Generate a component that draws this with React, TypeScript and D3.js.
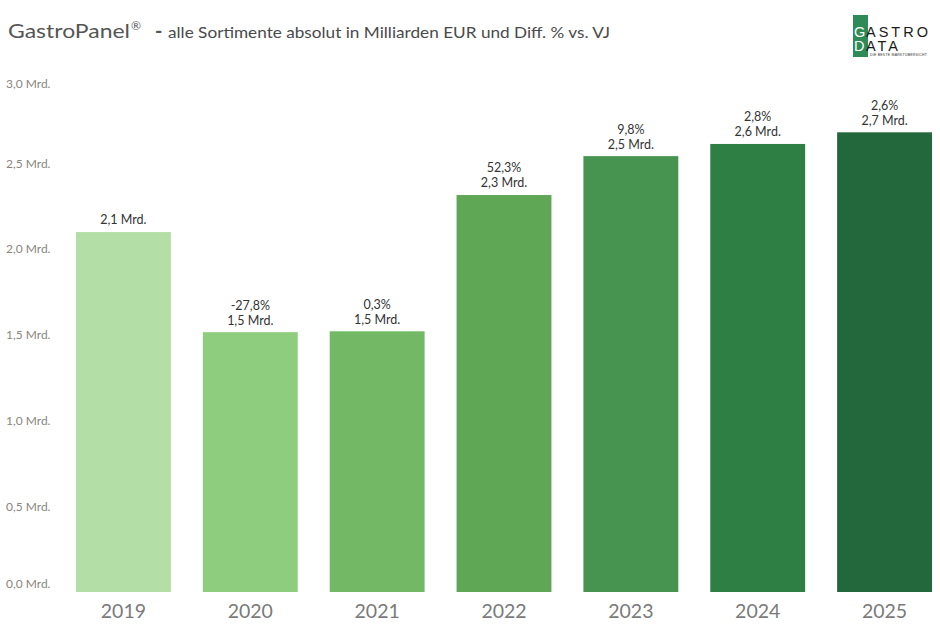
import * as d3 from "d3";
import { useMemo } from "react";

const years = ["2019", "2020", "2021", "2022", "2023", "2024", "2025"];
const umsatz = [2.1, 1.516, 1.521, 2.316, 2.543, 2.614, 2.682];
const diffVJ = [null, "-27,8%", "0,3%", "52,3%", "9,8%", "2,8%", "2,6%"];
const barColors = ["#b3dfa6", "#8fcd7e", "#72b865", "#5fa755", "#479350", "#2e7f43", "#23683c"];
const yTicks = [0, 0.5, 1, 1.5, 2, 2.5, 3];

const WIDTH = 940;
const HEIGHT = 636;
const FONT = "Lato, 'Open Sans', sans-serif";

const fmt = (v: number) => v.toFixed(1).replace(".", ",") + " Mrd.";

function Umsatzchart() {
  const xScale = useMemo(
    () => d3.scaleBand<string>().domain(years).range([60, 948]).paddingInner(0.252).paddingOuter(0.126),
    []
  );
  const yScale = useMemo(() => d3.scaleLinear().domain([0, 3]).range([592, 77.8]), []);

  return (
    <svg width={WIDTH} height={HEIGHT} style={{ position: "absolute", left: 0, top: 0, background: "#fff" }}>
      {/* titel */}
      <g fontFamily={FONT}>
        <text x={8} y={38} fill="#555" fontSize={19} textLength={122} lengthAdjust="spacingAndGlyphs">
          GastroPanel
        </text>
        <text x={131} y={30} fill="#555" fontSize={12}>®</text>
        <text x={155} y={38} fill="#555" fontSize={20} fontWeight="bold">-</text>
        <text x={168} y={38} fill="#4a4a4a" fontSize={16} textLength={442} lengthAdjust="spacingAndGlyphs">
          alle Sortimente absolut in Milliarden EUR und Diff. % vs. VJ
        </text>
      </g>

      {/* logo */}
      <g fontFamily="'Liberation Sans', sans-serif">
        <rect x={853} y={15} width={15} height={42} fill="#2e8b57" />
        <text x={854} y={37} fontSize={14.5} fill="#fff">G</text>
        <text x={866} y={37} fontSize={14.5} fill="#1b1b1b" textLength={62}>ASTRO</text>
        <text x={854} y={50.5} fontSize={14.5} fill="#fff">D</text>
        <text x={866} y={50.5} fontSize={14.5} fill="#1b1b1b" textLength={32}>ATA</text>
        <text x={870} y={56} fontSize={3.5} fill="#333" textLength={57}>DIE BESTE MARKTÜBERSICHT</text>
      </g>

      {/* y-achse */}
      {yTicks.map((t) => (
        <text
          key={t}
          x={6}
          y={Math.min(584, Math.max(84, yScale(t)))}
          dy="0.35em"
          fontFamily={FONT}
          fontSize={12}
          fill="#8a8580"
        >
          {fmt(t)}
        </text>
      ))}

      {/* balken */}
      {years.map((yr, i) => {
        const x = xScale(yr)!;
        const cx = x + xScale.bandwidth() / 2;
        const top = yScale(umsatz[i]);
        return (
          <g key={yr}>
            <rect x={x} y={top} width={xScale.bandwidth()} height={yScale(0) - top} fill={barColors[i]} />
            <text x={cx} y={top - 12} dy="0.35em" textAnchor="middle" fontFamily={FONT} fontSize={12.5} fill="#333">
              {fmt(umsatz[i])}
            </text>
            {diffVJ[i] && (
              <text x={cx} y={top - 27} dy="0.35em" textAnchor="middle" fontFamily={FONT} fontSize={12.5} fill="#333">
                {diffVJ[i]}
              </text>
            )}
            <text x={cx} y={611} dy="0.35em" textAnchor="middle" fontFamily={FONT} fontSize={19.5} fill="#7a7a7a">
              {yr}
            </text>
          </g>
        );
      })}
    </svg>
  );
}

export default function App() {
  return (
    <div>
      <Umsatzchart />
    </div>
  );
}
